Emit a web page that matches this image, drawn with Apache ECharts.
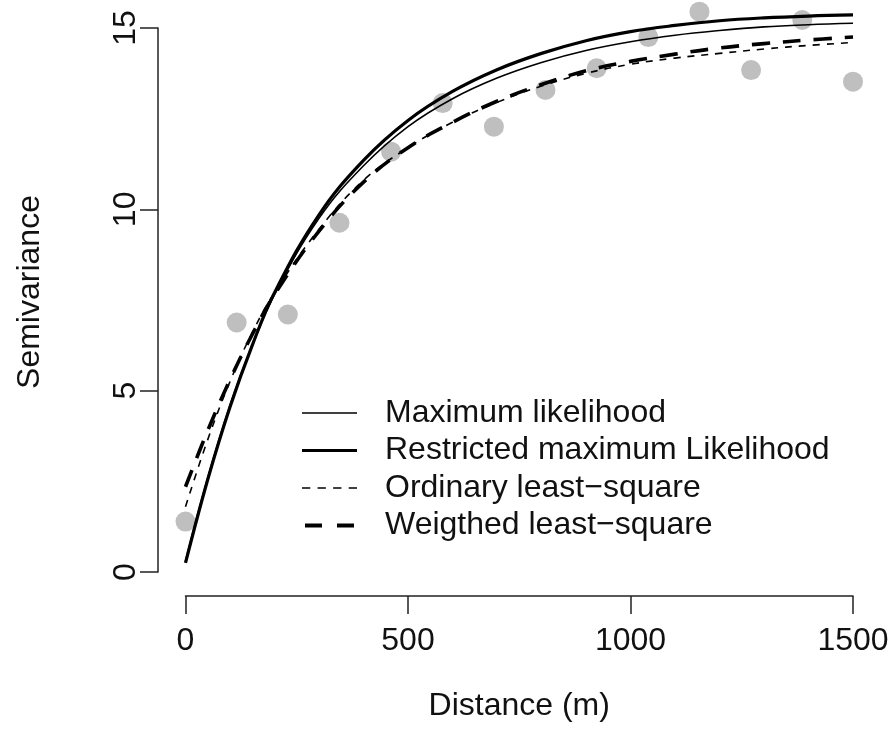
<!DOCTYPE html>
<html>
<head>
<meta charset="utf-8">
<script src="https://cdn.jsdelivr.net/npm/echarts@6/dist/echarts.min.js"></script>
<style>
  html, body { margin: 0; padding: 0; background: #fff; }
  #chart { width: 893px; height: 748px; }
</style>
</head>
<body>
<div id="chart"></div>
<script>
// Empirical semivariogram (lag distance in m, semivariance)
const lagDistance = [0, 115, 230, 346, 462, 578, 693, 809, 924, 1040, 1155, 1271, 1386, 1500];
const lagSemivariance = [1.39, 6.88, 7.10, 9.63, 11.59, 12.93, 12.28, 13.29, 13.89, 14.75, 15.45, 13.84, 15.22, 13.52];

// Fitted model curves
const curveDistance = [0, 50, 100, 150, 200, 300, 400, 500, 600, 700, 800, 900, 1000, 1100, 1200, 1300, 1400, 1500];
const mlValues   = [0.30, 2.60, 4.60, 6.25, 7.65, 9.75, 11.20, 12.28, 13.05, 13.62, 14.05, 14.38, 14.62, 14.80, 14.93, 15.03, 15.09, 15.13];
const remlValues = [0.25, 2.55, 4.55, 6.25, 7.70, 9.85, 11.35, 12.45, 13.25, 13.85, 14.30, 14.65, 14.90, 15.07, 15.20, 15.28, 15.33, 15.36];
const olsValues  = [1.80, 3.65, 5.25, 6.60, 7.70, 9.45, 10.80, 11.70, 12.40, 12.95, 13.40, 13.75, 14.00, 14.17, 14.30, 14.42, 14.52, 14.60];
const wlsValues  = [2.35, 3.90, 5.30, 6.55, 7.65, 9.40, 10.75, 11.70, 12.40, 12.98, 13.44, 13.82, 14.08, 14.28, 14.45, 14.57, 14.67, 14.75];

const seriesNames = ['Maximum likelihood', 'Restricted maximum Likelihood', 'Ordinary least\u2212square', 'Weigthed least\u2212square'];
const xAxisTitle = 'Distance (m)';
const yAxisTitle = 'Semivariance';

const FONT = '"Liberation Sans", Arial, Helvetica, sans-serif';
const pairs = (xs, ys) => xs.map((x, i) => [x, ys[i]]);

const chart = echarts.init(document.getElementById('chart'), null, { renderer: 'canvas' });

// legend icons as filled paths (solid / dashed strokes)
const iconThin = 'path://M0,0H55V1.5H0Z';
const iconThick = 'path://M0,0H55V3H0Z';
const iconOls = 'path://M0,0H8V1.5H0Z M15,0H23V1.5H15Z M30,0H38V1.5H30Z M45,0H53V1.5H45Z';
const iconWls = 'path://M0,0H17V4H0Z M32,0H49V4H32Z';

const option = {
  backgroundColor: '#ffffff',
  animation: false,
  textStyle: { fontFamily: FONT },
  grid: { left: 185.5, right: 40, top: 28, bottom: 176, containLabel: false, outerBoundsMode: 'none' },
  legend: {
    orient: 'vertical',
    left: 297,
    top: 392,
    itemGap: 5.5,
    itemWidth: 55,
    itemHeight: 4,
    selectedMode: false,
    textStyle: { fontSize: 32, color: '#111', fontFamily: FONT, padding: [0, 0, 0, 23] },
    data: [
      { name: seriesNames[0], icon: iconThin, itemStyle: { color: '#000' } },
      { name: seriesNames[1], icon: iconThick, itemStyle: { color: '#000' } },
      { name: seriesNames[2], icon: iconOls, itemStyle: { color: '#000' } },
      { name: seriesNames[3], icon: iconWls, itemStyle: { color: '#000' } }
    ]
  },
  xAxis: {
    type: 'value',
    min: 0, max: 1500, interval: 500,
    offset: 24,
    name: xAxisTitle,
    nameLocation: 'middle',
    nameGap: 94,
    nameMoveOverlap: false,
    nameTextStyle: { fontSize: 32, color: '#111', fontFamily: FONT },
    axisLine: { show: true, onZero: false, lineStyle: { color: '#222', width: 1.5 } },
    axisTick: { show: true, inside: false, length: 18, lineStyle: { color: '#222', width: 1.5 } },
    axisLabel: { fontSize: 32, color: '#111', margin: 29, fontFamily: FONT, showMinLabel: true, showMaxLabel: true,
      formatter: function (v) { return String(v); } },
    splitLine: { show: false }
  },
  yAxis: {
    type: 'value',
    min: 0, max: 15, interval: 5,
    offset: 27.5,
    name: yAxisTitle,
    nameLocation: 'middle',
    nameGap: 112,
    nameRotate: 90,
    nameMoveOverlap: false,
    nameTextStyle: { fontSize: 32, color: '#111', fontFamily: FONT, padding: [0, 0, 0, 16] },
    axisLine: { show: true, onZero: false, lineStyle: { color: '#222', width: 1.5 } },
    axisTick: { show: true, inside: false, length: 18, lineStyle: { color: '#222', width: 1.5 } },
    axisLabel: { fontSize: 32, color: '#111', margin: 16, rotate: 90, fontFamily: FONT, showMinLabel: true, showMaxLabel: true,
      formatter: function (v) { return String(v); } },
    splitLine: { show: false }
  },
  series: [
    {
      name: 'Empirical',
      type: 'scatter',
      data: pairs(lagDistance, lagSemivariance),
      symbol: 'circle',
      symbolSize: 20,
      clip: false,
      itemStyle: { color: '#bfbfbf', opacity: 1 },
      z: 1
    },
    {
      name: seriesNames[0], type: 'line', data: pairs(curveDistance, mlValues),
      smooth: 0.4, symbol: 'none', clip: false, z: 3,
      lineStyle: { color: '#000', width: 1.6, type: 'solid' }, itemStyle: { color: '#000' }
    },
    {
      name: seriesNames[1], type: 'line', data: pairs(curveDistance, remlValues),
      smooth: 0.4, symbol: 'none', clip: false, z: 3,
      lineStyle: { color: '#000', width: 3.2, type: 'solid' }, itemStyle: { color: '#000' }
    },
    {
      name: seriesNames[2], type: 'line', data: pairs(curveDistance, olsValues),
      smooth: 0.4, symbol: 'none', clip: false, z: 3,
      lineStyle: { color: '#000', width: 1.6, type: [7, 7] }, itemStyle: { color: '#000' }
    },
    {
      name: seriesNames[3], type: 'line', data: pairs(curveDistance, wlsValues),
      smooth: 0.4, symbol: 'none', clip: false, z: 3,
      lineStyle: { color: '#000', width: 3.6, type: [18, 13] }, itemStyle: { color: '#000' }
    }
  ]
};
chart.setOption(option);
</script>
</body>
</html>
